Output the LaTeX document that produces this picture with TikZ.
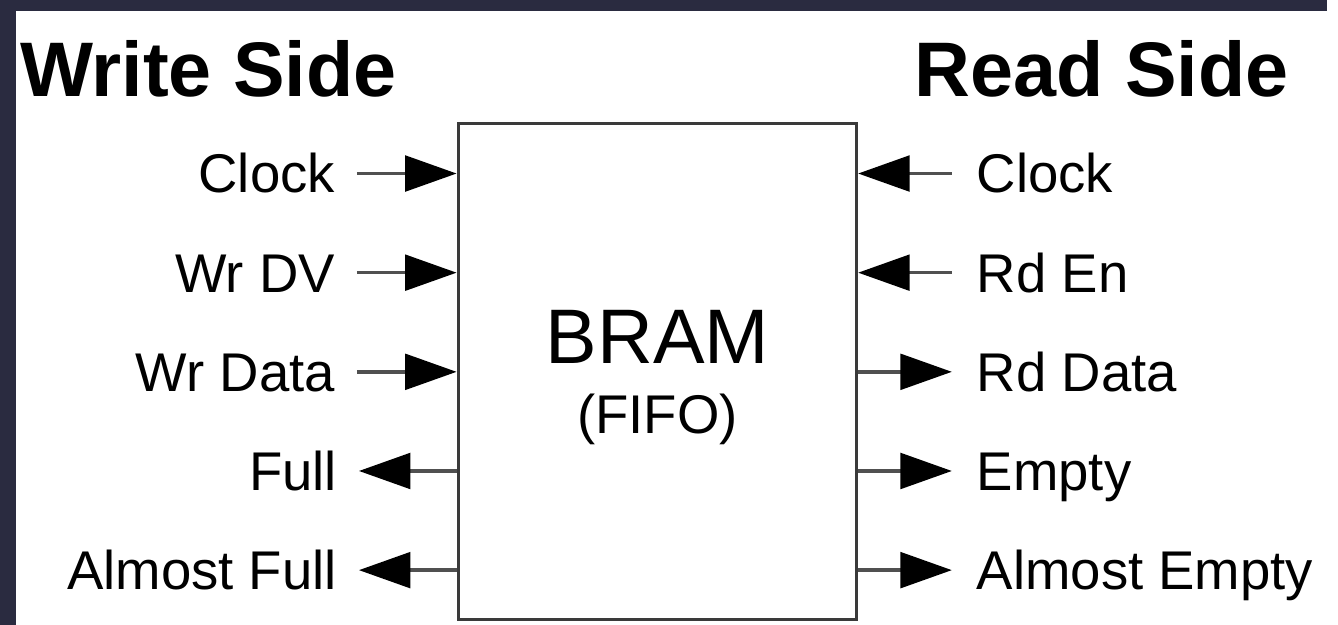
\documentclass[tikz,border=0pt]{standalone}
\usepackage{fontspec}
\setmainfont{Liberation Sans}
\usetikzlibrary{arrows.meta}
\definecolor{frame}{RGB}{42,43,64}
\definecolor{wire}{RGB}{80,80,80}
\definecolor{edge}{RGB}{58,58,58}
\begin{document}
\begin{tikzpicture}[
  x=1pt,y=-1pt,
  title/.style={font=\fontsize{78}{80}\selectfont\bfseries, inner sep=0pt},
  fifobox/.style={draw=edge, line width=3pt, fill=white, minimum width=402pt, minimum height=500pt, inner sep=0pt},
  lbl/.style={font=\fontsize{55}{60}\selectfont, text height=39pt, text depth=0pt, inner ysep=0pt},
  lside/.style={lbl, anchor=east, inner xsep=22pt},
  rside/.style={lbl, anchor=west, inner xsep=25pt},
  sig/.style={-{Triangle[length=52pt, width=36pt, color=black]}, line width=3.5pt, draw=wire}
]
\fill[frame] (0,0) rectangle (1338,630);
\fill[white] (16,11) rectangle (1338,630);

\node[title, anchor=base west] (wside) at (20,97) {Write Side};
\node[title, anchor=base east] (rside) at (1300,97) {Read Side};

\node[fifobox] (bram) at (663,375) {};
\node[font=\fontsize{78}{80}\selectfont, inner sep=0pt, anchor=base] (bramtxt) at (663,367) {BRAM};
\node[font=\fontsize{55}{60}\selectfont, inner sep=0pt, anchor=base] (fifotxt) at (663,437) {(FIFO)};

\node[lside] (wclk) at (360,175) {Clock};
\node[lside] (wrdv) at (360,275) {Wr DV};
\node[lside] (wrdata) at (360,375) {Wr Data};
\node[lside] (full) at (362,475) {Full};
\node[lside] (afull) at (362,575) {Almost Full};

\node[rside] (rclk) at (960,175) {Clock};
\node[rside] (rden) at (960,275) {Rd En};
\node[rside] (rddata) at (960,375) {Rd Data};
\node[rside] (empty) at (960,475) {Empty};
\node[rside] (aempty) at (960,575) {Almost Empty};

\draw[sig] (wclk.east) -- (bram.west |- wclk.east);
\draw[sig] (wrdv.east) -- (bram.west |- wrdv.east);
\draw[sig] (wrdata.east) -- (bram.west |- wrdata.east);
\draw[sig] (bram.west |- full.east) -- (full.east);
\draw[sig] (bram.west |- afull.east) -- (afull.east);

\draw[sig] (rclk.west) -- (bram.east |- rclk.west);
\draw[sig] (rden.west) -- (bram.east |- rden.west);
\draw[sig] (bram.east |- rddata.west) -- (rddata.west);
\draw[sig] (bram.east |- empty.west) -- (empty.west);
\draw[sig] (bram.east |- aempty.west) -- (aempty.west);
\end{tikzpicture}
\end{document}
